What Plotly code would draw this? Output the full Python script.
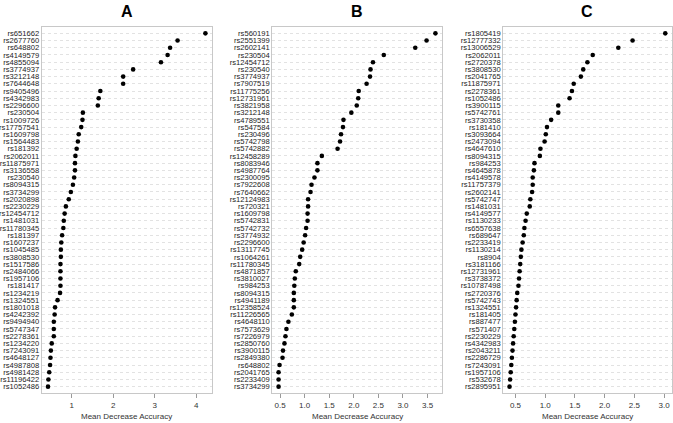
import plotly.graph_objects as go

# ---- Data ----
labels_a = ["rs651662", "rs2677760", "rs648802", "rs4149579", "rs4855094", "rs3774937", "rs3212148",
            "rs7644648", "rs9405496", "rs4342983", "rs2296600", "rs230504", "rs1009726", "rs17757541",
            "rs1609798", "rs1564483", "rs181392", "rs2062011", "rs11875971", "rs3136558", "rs230540",
            "rs8094315", "rs3734299", "rs2020898", "rs2230229", "rs12454712", "rs1481031", "rs11780345",
            "rs181397", "rs1607237", "rs1045485", "rs3808530", "rs1517586", "rs2484066", "rs1957106",
            "rs181417", "rs1234219", "rs1324551", "rs1801018", "rs4242392", "rs9494940", "rs5747347",
            "rs2278361", "rs1234220", "rs7243091", "rs4648127", "rs4987808", "rs4981428", "rs11196422",
            "rs1052486"]
values_a = [4.22, 3.55, 3.37, 3.31, 3.15, 2.48, 2.24, 2.24, 1.69, 1.65, 1.63, 1.27, 1.26, 1.23, 1.17,
            1.15, 1.12, 1.09, 1.08, 1.08, 1.06, 1.03, 0.98, 0.93, 0.86, 0.83, 0.81, 0.80, 0.77, 0.75,
            0.74, 0.74, 0.73, 0.73, 0.73, 0.73, 0.72, 0.66, 0.60, 0.59, 0.57, 0.57, 0.57, 0.52, 0.50,
            0.49, 0.48, 0.46, 0.44, 0.43]

labels_b = ["rs560191", "rs2551399", "rs2602141", "rs230504", "rs12454712", "rs230540", "rs3774937",
            "rs7907519", "rs11775256", "rs12731961", "rs3821958", "rs3212148", "rs4789551", "rs547584",
            "rs230496", "rs5742798", "rs5742882", "rs12458289", "rs8083946", "rs4987764", "rs2300095",
            "rs7922608", "rs7640662", "rs12124983", "rs720321", "rs1609798", "rs5742831", "rs5742732",
            "rs3774932", "rs2296600", "rs13117745", "rs1064261", "rs11780345", "rs4871857", "rs3810027",
            "rs984253", "rs8094315", "rs4941189", "rs12358524", "rs11226565", "rs4648110", "rs7573629",
            "rs7226979", "rs2850760", "rs3900115", "rs2849380", "rs648802", "rs2041765", "rs2233409",
            "rs3734299"]
values_b = [3.66, 3.48, 3.25, 2.61, 2.39, 2.34, 2.33, 2.26, 2.10, 2.09, 2.06, 1.95, 1.79, 1.78, 1.74,
            1.72, 1.67, 1.35, 1.26, 1.26, 1.20, 1.14, 1.12, 1.07, 1.07, 1.06, 1.06, 1.03, 1.01, 0.98,
            0.95, 0.91, 0.89, 0.82, 0.80, 0.79, 0.78, 0.78, 0.78, 0.74, 0.67, 0.63, 0.61, 0.59, 0.56,
            0.55, 0.49, 0.47, 0.47, 0.47]

labels_c = ["rs1805419", "rs12777332", "rs13006529", "rs2062011", "rs2720378", "rs3808530", "rs2041765",
            "rs11875971", "rs2278361", "rs1052486", "rs3900115", "rs5742761", "rs3730358", "rs181410",
            "rs3093664", "rs2473094", "rs4647610", "rs8094315", "rs984253", "rs4645878", "rs4149578",
            "rs11757379", "rs2602141", "rs5742747", "rs1481031", "rs4149577", "rs1130233", "rs6557638",
            "rs689647", "rs2233419", "rs1130214", "rs8904", "rs3181166", "rs12731961", "rs3738372",
            "rs10787498", "rs2720376", "rs5742743", "rs1324551", "rs181405", "rs887477", "rs571407",
            "rs2230229", "rs4342983", "rs2043211", "rs2286729", "rs7243091", "rs1957106", "rs532678",
            "rs2895951"]
values_c = [3.02, 2.47, 2.23, 1.80, 1.71, 1.64, 1.60, 1.48, 1.45, 1.41, 1.22, 1.22, 1.10, 1.03, 1.01,
            0.99, 0.92, 0.91, 0.82, 0.81, 0.79, 0.79, 0.78, 0.75, 0.74, 0.69, 0.67, 0.65, 0.64, 0.62,
            0.60, 0.59, 0.58, 0.57, 0.56, 0.55, 0.53, 0.52, 0.51, 0.50, 0.49, 0.48, 0.47, 0.46, 0.45,
            0.44, 0.43, 0.42, 0.41, 0.40]

panel_titles = ["A", "B", "C"]
xticks_a = [1, 2, 3, 4]
xticks_b = [0.5, 1.0, 1.5, 2.0, 2.5, 3.0, 3.5]
xticks_c = [0.5, 1.0, 1.5, 2.0, 2.5, 3.0]
x_title = "Mean Decrease Accuracy"

# ---- Figure ----
W, H = 673, 423
FONT = "Liberation Sans, Arial, sans-serif"
panels = [
    (labels_a, values_a, xticks_a, "d", (41.7, 211.7)),
    (labels_b, values_b, xticks_b, ".1f", (272.3, 441.7)),
    (labels_c, values_c, xticks_c, ".1f", (503.3, 671.5)),
]
box_top, box_bot = 26.7, 393.3
ydom = [1 - box_bot / H, 1 - box_top / H]

fig = go.Figure()
for k, (labs, vals, ticks, fmt, (x0, x1)) in enumerate(panels):
    n = len(labs)
    ypos = [n - i for i in range(n)]
    xa = "x" if k == 0 else f"x{k+1}"
    ya = "y" if k == 0 else f"y{k+1}"
    fig.add_trace(go.Scatter(x=vals, y=ypos, mode="markers",
                             marker=dict(color="black", size=4.6),
                             xaxis=xa, yaxis=ya, showlegend=False, hoverinfo="skip"))
    lo, hi = min(vals), max(vals)
    pad = 0.04 * (hi - lo)
    sfx = "" if k == 0 else str(k + 1)
    fig.layout["xaxis" + sfx] = dict(
        domain=[x0 / W, x1 / W], anchor=ya, range=[lo - pad, hi + pad],
        tickvals=ticks, tickformat=fmt, ticks="outside", ticklen=4, tickcolor="#9a9a9a",
        showgrid=False, zeroline=False, showline=True, linecolor="#c8c8c8", linewidth=1,
        mirror=True, tickfont=dict(family=FONT, size=8, color="#333333"), automargin=False)
    fig.layout["yaxis" + sfx] = dict(
        domain=ydom, anchor=xa, range=[0.08, n + 0.92],
        tickvals=ypos, ticktext=labs, ticks="", showgrid=True, gridcolor="#e2e2e2",
        griddash="dot", gridwidth=1, zeroline=False, showline=True, linecolor="#c8c8c8",
        linewidth=1, mirror=True, tickfont=dict(family=FONT, size=7.6, color="#222222"),
        automargin=False)
    cx = (x0 + x1) / 2 / W
    fig.add_annotation(x=cx, y=1 - 11 / H, xref="paper", yref="paper", text="<b>%s</b>" % panel_titles[k],
                       showarrow=False, font=dict(family=FONT, size=16, color="black"),
                       xanchor="center", yanchor="middle")
    fig.add_annotation(x=cx, y=1 - 416 / H, xref="paper", yref="paper", text=x_title,
                       showarrow=False, font=dict(family=FONT, size=8, color="#333333"),
                       xanchor="center", yanchor="middle")

fig.update_layout(width=W, height=H, margin=dict(l=0, r=0, t=0, b=0),
                  paper_bgcolor="white", plot_bgcolor="white", showlegend=False)
fig.write_html("out.html", config={"displayModeBar": False},
               post_script="document.body.style.margin='0';document.body.style.overflow='hidden';")
